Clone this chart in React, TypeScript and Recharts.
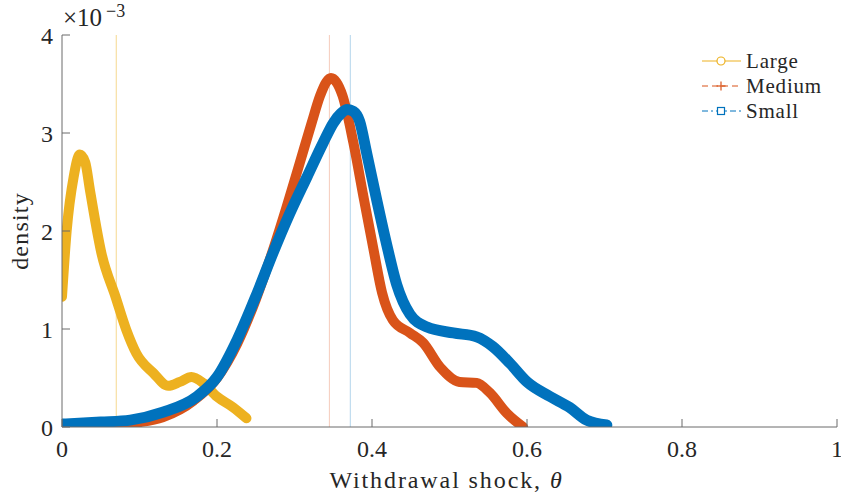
import React from 'react';
import { LineChart, Line, XAxis, YAxis, ReferenceLine } from 'recharts';

// values are density in units of 1e-3
const largeX = [0, 0.006, 0.015, 0.023, 0.03, 0.036, 0.051, 0.069, 0.083, 0.096, 0.118, 0.137, 0.152, 0.167, 0.182, 0.2, 0.221, 0.238];
const largeY = [1.33, 2.0, 2.55, 2.78, 2.7, 2.42, 1.77, 1.33, 0.99, 0.75, 0.55, 0.42, 0.46, 0.51, 0.45, 0.31, 0.2, 0.09];

const mediumX = [0, 0.05, 0.1, 0.13, 0.17, 0.2, 0.226, 0.25, 0.272, 0.29, 0.307, 0.322, 0.333, 0.341, 0.347, 0.354, 0.362, 0.376, 0.389, 0.402, 0.413, 0.427, 0.449, 0.466, 0.488, 0.513, 0.535, 0.552, 0.574, 0.595];
const mediumY = [0.0, 0.02, 0.05, 0.1, 0.27, 0.5, 0.85, 1.3, 1.8, 2.25, 2.7, 3.1, 3.38, 3.52, 3.56, 3.52, 3.38, 2.9, 2.35, 1.81, 1.37, 1.09, 0.96, 0.86, 0.61, 0.46, 0.45, 0.35, 0.14, 0.0];

const smallX = [0, 0.05, 0.088, 0.13, 0.174, 0.2, 0.226, 0.252, 0.272, 0.294, 0.316, 0.337, 0.35, 0.36, 0.368, 0.376, 0.384, 0.393, 0.406, 0.419, 0.432, 0.449, 0.471, 0.505, 0.535, 0.556, 0.578, 0.6, 0.63, 0.655, 0.677, 0.703];
const smallY = [0.03, 0.05, 0.07, 0.15, 0.31, 0.51, 0.89, 1.37, 1.77, 2.18, 2.55, 2.9, 3.1, 3.2, 3.24, 3.22, 3.12, 2.8, 2.32, 1.86, 1.45, 1.15, 1.02, 0.96, 0.92, 0.82, 0.65, 0.46, 0.31, 0.2, 0.07, 0.02];

const xTicks = [0, 0.2, 0.4, 0.6, 0.8, 1];
const yTicks = [0, 1, 2, 3, 4];
const refLines = [0.07, 0.345, 0.372];
const seriesNames = ['Large', 'Medium', 'Small'];

const COLORS = ['#EDB120', '#D95319', '#0072BD'];
const FONT = 'Liberation Serif, DejaVu Serif, serif';
const TXT = '#262626';
const AXC = '#6a6a6a';

const zip = (xs: number[], ys: number[]) => xs.map((x, i) => ({ x, y: ys[i] }));
const largeData = zip(largeX, largeY);
const mediumData = zip(mediumX, mediumY);
const smallData = zip(smallX, smallY);

const tStyle = { fontFamily: FONT } as React.CSSProperties;

const BottomTick = (props: any) => {
  const { x, y, payload } = props;
  return (
    <g>
      <line x1={x} x2={x} y1={y} y2={y - 8} stroke={AXC} strokeWidth={1} />
      <text x={x} y={y + 30} textAnchor="middle" style={tStyle} fontSize={24} fill={TXT}>
        {String(payload.value)}
      </text>
    </g>
  );
};

const TopTick = (props: any) => {
  const { x, y } = props;
  return <line x1={x} x2={x} y1={y} y2={y + 8} stroke={AXC} strokeWidth={1} />;
};

const LeftTick = (props: any) => {
  const { x, y, payload } = props;
  return (
    <g>
      <line x1={x} x2={x + 8} y1={y} y2={y} stroke={AXC} strokeWidth={1} />
      <text x={x - 9} y={y + 9} textAnchor="end" style={tStyle} fontSize={24} fill={TXT}>
        {String(payload.value)}
      </text>
    </g>
  );
};

const RightTick = (props: any) => {
  const { x, y } = props;
  return <line x1={x} x2={x - 8} y1={y} y2={y} stroke={AXC} strokeWidth={1} />;
};

const YLabel = (props: any) => {
  const vb = props.viewBox || { x: 0, y: 35, width: 62, height: 392 };
  const cx = 20;
  const cy = vb.y + vb.height / 2;
  return (
    <text x={cx} y={cy} transform={`rotate(-90, ${cx}, ${cy})`} textAnchor="middle" dominantBaseline="central"
      style={tStyle} fontSize={24} letterSpacing={1.2} fill={TXT}>
      density
    </text>
  );
};

const XLabel = (props: any) => {
  const vb = props.viewBox || { x: 62, y: 427, width: 775, height: 69 };
  const cx = vb.x + vb.width / 2 - 3;
  return (
    <text x={cx} y={488} textAnchor="middle" style={tStyle} fontSize={24} letterSpacing={1.9} fill={TXT}>
      Withdrawal shock, <tspan fontStyle="italic">θ</tspan>
    </text>
  );
};

const LegendMarker = ({ i, cy }: { i: number; cy: number }) => {
  const c = COLORS[i];
  const x1 = 702, x2 = 741, mx = 721;
  const dash = i === 0 ? undefined : i === 1 ? '6,4' : '6,3,2,3';
  return (
    <g>
      <line x1={x1} x2={x2} y1={cy} y2={cy} stroke={c} strokeWidth={1} strokeDasharray={dash} />
      {i === 0 && <circle cx={mx} cy={cy} r={4} fill="#fff" stroke={c} strokeWidth={1.2} />}
      {i === 1 && (
        <g stroke={c} strokeWidth={1.2}>
          <line x1={mx - 4.5} x2={mx + 4.5} y1={cy} y2={cy} />
          <line x1={mx} x2={mx} y1={cy - 4.5} y2={cy + 4.5} />
        </g>
      )}
      {i === 2 && <rect x={mx - 3.5} y={cy - 3.5} width={7} height={7} fill="#fff" stroke={c} strokeWidth={1.2} />}
    </g>
  );
};

export default function App() {
  const rows = [61, 86, 111];
  return (
    <div style={{ position: 'absolute', left: 0, top: 0, width: 841, height: 496, background: '#fff', fontFamily: FONT }}>
      <LineChart width={841} height={496} margin={{ top: 35, right: 4, bottom: 0, left: 0 }}>
        <XAxis
          xAxisId="b"
          dataKey="x"
          type="number"
          orientation="bottom"
          domain={[0, 1]}
          ticks={xTicks}
          allowDataOverflow
          height={69}
          tickSize={0}
          tickMargin={0}
          tickLine={false}
          axisLine={{ stroke: AXC, strokeWidth: 1 }}
          tick={<BottomTick />}
          interval={0}
          label={<XLabel />}
        />
        <XAxis
          xAxisId="t"
          type="number"
          orientation="top"
          domain={[0, 1]}
          ticks={xTicks}
          allowDataOverflow
          height={0}
          tickSize={0}
          tickMargin={0}
          tickLine={false}
          axisLine={{ stroke: AXC, strokeWidth: 1 }}
          tick={<TopTick />}
          interval={0}
        />
        <YAxis
          yAxisId="l"
          type="number"
          orientation="left"
          domain={[0, 4]}
          ticks={yTicks}
          allowDataOverflow
          width={62}
          tickSize={0}
          tickMargin={0}
          tickLine={false}
          axisLine={{ stroke: AXC, strokeWidth: 1 }}
          tick={<LeftTick />}
          interval={0}
          label={<YLabel />}
        />
        <YAxis
          yAxisId="r"
          type="number"
          orientation="right"
          domain={[0, 4]}
          ticks={yTicks}
          allowDataOverflow
          width={0}
          tickSize={0}
          tickMargin={0}
          tickLine={false}
          axisLine={{ stroke: AXC, strokeWidth: 1 }}
          tick={<RightTick />}
          interval={0}
        />
        {refLines.map((v, i) => (
          <ReferenceLine key={i} x={v} xAxisId="b" yAxisId="l" stroke={COLORS[i]} strokeOpacity={i === 0 ? 0.5 : 0.3} strokeWidth={1} />
        ))}
        <Line data={largeData} xAxisId="b" yAxisId="l" dataKey="y" name={seriesNames[0]} type="monotone"
          stroke={COLORS[0]} strokeWidth={10} strokeLinecap="round" strokeLinejoin="round" dot={false} isAnimationActive={false} />
        <Line data={mediumData} xAxisId="b" yAxisId="l" dataKey="y" name={seriesNames[1]} type="monotone"
          stroke={COLORS[1]} strokeWidth={10} strokeLinecap="round" strokeLinejoin="round" dot={false} isAnimationActive={false} />
        <Line data={smallData} xAxisId="b" yAxisId="l" dataKey="y" name={seriesNames[2]} type="monotone"
          stroke={COLORS[2]} strokeWidth={11} strokeLinecap="round" strokeLinejoin="round" dot={false} isAnimationActive={false} />
      </LineChart>
      <svg width={841} height={496} style={{ position: 'absolute', left: 0, top: 0, pointerEvents: 'none' }}>
        <text x={63} y={26} style={tStyle} fontSize={25} fill={TXT}>
          ×10
        </text>
        <text x={106} y={17} style={tStyle} fontSize={18} fill={TXT}>
          −3
        </text>
        {seriesNames.map((n, i) => (
          <g key={n}>
            <LegendMarker i={i} cy={rows[i]} />
            <text x={746} y={rows[i] + 7} style={tStyle} fontSize={21} letterSpacing={0.8} fill={TXT}>
              {n}
            </text>
          </g>
        ))}
      </svg>
    </div>
  );
}
